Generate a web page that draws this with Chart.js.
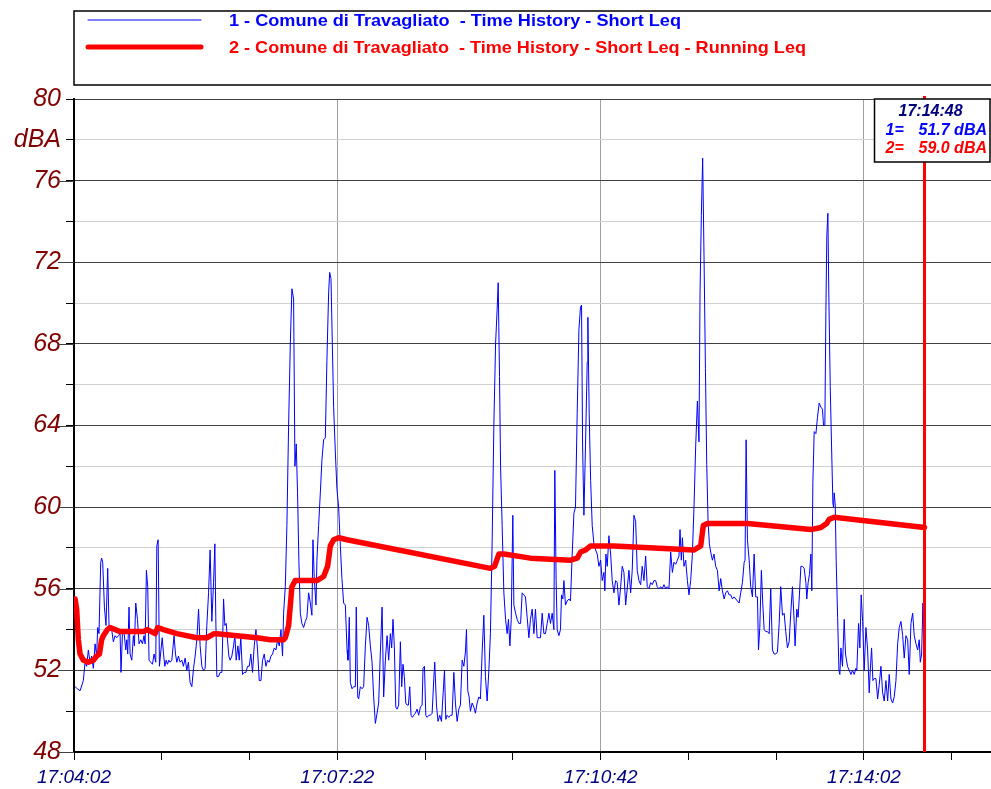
<!DOCTYPE html>
<html lang="it">
<head>
<meta charset="UTF-8">
<title>Comune di Travagliato - Time History</title>
<script src="https://cdn.jsdelivr.net/npm/chart.js"></script>
<style>
  body { margin: 0; background: #fff; }
  #wrap { width: 991px; height: 789px; position: relative; }
</style>
</head>
<body>
<div id="wrap"><canvas id="leqChart"></canvas></div>
<script>
// times are seconds after 17:04:02
const seriesNames = [
  '1 - Comune di Travagliato  - Time History - Short Leq',
  '2 - Comune di Travagliato  - Time History - Short Leq - Running Leq'
];

const shortLeqT = [
  0.8,2.5,4.6,7.1,8.4,9.6,10.9,12.2,13.4,14.7,
  16.0,17.2,18.0,19.0,20.3,21.0,21.8,23.1,24.3,25.6,
  26.6,28.6,29.9,31.2,32.4,33.7,35.0,35.7,36.8,38.0,
  39.3,40.1,40.8,41.8,42.6,43.9,45.1,45.9,46.9,48.2,
  49.4,50.7,52.0,53.2,54.0,55.0,56.0,57.0,58.3,59.6,
  60.8,62.1,62.9,63.9,64.9,65.9,67.0,68.0,69.0,70.0,
  71.0,72.0,73.0,74.3,76.0,77.1,78.1,79.3,80.6,81.9,
  83.1,84.4,85.7,86.9,88.2,89.5,90.8,92.0,93.3,94.6,
  95.8,97.1,98.4,99.6,100.9,102.2,103.4,104.7,106.0,107.0,
  107.7,108.5,109.8,111.0,112.3,113.6,114.6,115.6,116.6,117.6,
  118.6,119.9,121.2,122.2,123.2,124.5,125.5,126.7,128.0,129.3,
  130.6,131.8,133.1,134.3,135.6,136.9,138.2,139.4,140.7,142.0,
  143.2,144.5,145.8,147.0,148.3,149.6,150.8,152.1,153.4,154.6,
  155.9,157.2,158.4,
  159.2,160.5,161.7,163.0,164.3,165.5,166.8,167.8,168.8,169.8,
  170.8,171.9,173.1,174.4,175.7,176.9,178.2,179.5,180.7,181.5,
  182.5,183.8,184.5,185.8,187.1,188.3,189.6,190.9,192.1,193.4,
  194.2,195.2,196.2,197.2,198.5,199.7,201.0,202.3,203.5,204.8,
  206.1,207.4,208.1,209.1,209.9,211.2,212.4,213.7,214.4,215.5,
  216.2,217.5,218.8,220.0,221.3,222.6,223.8,225.1,226.4,227.6,
  228.9,230.2,231.4,232.7,234.0,235.2,236.5,237.8,239.0,240.3,
  241.3,242.3,243.3,244.4,245.4,246.6,247.9,248.9,249.9,250.9,
  252.0,253.0,254.0,255.0,256.0,257.0,258.0,259.3,260.6,261.8,
  263.1,264.4,265.1,266.2,267.2,268.2,269.5,270.7,272.0,273.3,
  274.0,275.3,276.5,277.8,279.1,280.4,281.4,282.4,283.4,284.7,
  285.9,287.2,288.5,289.7,291.0,292.3,293.5,294.8,296.1,297.3,
  298.1,299.1,300.1,301.1,302.4,303.7,304.9,306.2,307.5,308.7,
  310.0,311.3,312.5,313.8,315.1,316.3,317.6,318.9,320.2,321.4,
  322.2,323.2,324.0,325.2,326.5,327.8,329.0,330.0,331.1,332.1,
  333.3,334.1,335.4,336.6,337.9,339.2,
  340.4,341.7,342.9,344.2,345.5,346.7,348.0,349.3,350.5,351.8,
  353.1,354.3,355.6,356.9,358.1,359.4,360.7,361.9,363.2,364.5,
  365.2,366.2,367.0,368.3,369.5,370.3,371.3,372.1,373.3,374.6,
  375.9,377.1,378.4,379.7,380.9,382.2,383.5,384.7,385.5,386.3,
  387.3,388.5,389.8,390.3,391.3,392.4,393.6,394.9,396.2,397.4,
  398.7,400.0,401.2,402.5,403.2,404.0,405.0,406.3,407.6,408.8,
  410.1,411.4,412.6,413.9,415.2,416.4,417.7,419.0,420.2,421.5,
  422.8,424.0,425.3,426.6,427.8,429.1,430.4,431.6,432.9,434.2,
  435.4,436.7,438.0,439.2,440.5,441.8,443.0,444.3,445.6,446.8,
  448.1,449.4,450.6,451.9,453.2,454.5,455.7,457.0,458.3,459.5,
  460.3,461.3,462.1,463.3,464.6,465.9,467.1,468.4,469.7,
  471.0,472.2,473.5,474.7,475.5,476.5,477.5,478.5,479.6,480.6,
  481.6,482.6,483.6,484.9,486.1,487.4,488.7,490.0,491.2,492.5,
  493.8,495.0,496.3,497.6,498.8,500.1,501.4,502.6,503.9,505.2,
  506.4,507.7,509.0,509.7,510.5,511.5,512.8,514.0,515.3,516.6,
  517.8,519.1,519.9,520.9,522.1,523.2,524.2,525.4,526.7,528.0,
  529.2,530.5,531.8,533.0,534.3,535.6,536.8,538.1,539.4,540.6,
  541.9,543.2,544.5,545.7,547.0,547.7,549.0,550.0,551.0,552.1,
  553.3,554.6,555.9,556.6,557.6,558.6,559.7,560.4,561.2,562.2,
  563.5,564.7,566.0,567.3,568.5,569.3,570.3,571.1,571.8,572.6,
  573.3,574.4,575.4,576.4,576.9,577.4,578.2,578.9,580.0,581.0,
  581.7,582.5,583.7,585.0,586.0,587.5,588.8,590.1,591.3,592.6,
  593.9,594.6,595.9,596.9,597.9,599.0,600.2,601.5,602.8,604.0,
  604.8,605.8,606.8,607.8,609.1,610.4,611.6,612.9,614.2,615.4,
  616.7,618.0,619.2,620.5,621.8,623.0,624.3,625.6,626.8,628.1,
  629.4,630.6,631.9,633.2,634.4,635.7,637.0,638.2,639.5,640.8,
  642.0,642.8,643.8,644.8,645.8
];

const shortLeqV = [
  51.2,51.1,51.0,51.5,52.4,52.2,53.0,52.4,52.7,52.1,
  53.3,52.7,54.1,53.8,57.3,57.5,57.3,55.1,54.2,57.0,
  54.2,54.0,53.4,53.7,53.6,53.7,53.8,51.9,53.8,53.9,
  53.0,53.5,52.8,55.1,52.8,52.5,53.7,53.2,55.3,54.5,
  53.3,53.5,53.3,53.7,53.3,56.9,56.1,52.5,52.4,52.3,
  52.8,52.4,58.1,58.4,52.2,52.9,53.6,52.8,52.2,52.5,
  52.3,52.5,52.4,52.5,53.7,52.8,52.4,52.7,52.4,52.5,
  52.2,52.6,52.0,52.4,51.4,51.2,52.1,52.7,53.5,55.0,
  53.2,52.2,52.0,52.1,54.2,55.8,57.9,54.4,56.3,58.2,
  54.6,51.7,51.7,51.9,51.9,55.5,54.2,54.3,53.5,52.7,
  52.5,52.7,53.2,53.7,52.5,53.2,52.5,53.6,51.8,51.9,
  51.9,52.2,52.2,52.8,51.9,53.2,54.0,53.0,51.5,51.5,
  52.5,52.8,52.2,52.5,52.4,52.7,52.8,53.1,53.0,53.5,
  53.2,54.0,52.7,
  54.8,56.1,59.1,64.0,68.0,70.7,70.2,62.0,63.1,60.7,
  57.4,54.8,54.3,54.1,54.4,54.6,55.8,55.3,54.7,58.4,
  56.5,55.2,57.4,59.1,60.7,62.3,63.3,63.4,67.2,70.5,
  71.5,71.2,68.0,64.9,62.7,60.9,60.0,58.1,56.5,55.3,
  55.2,53.0,52.5,54.6,51.4,51.1,51.2,51.2,55.1,50.7,
  50.6,51.2,51.1,51.2,53.2,54.6,54.2,53.2,52.4,50.7,
  49.4,49.9,50.4,52.9,55.1,50.7,52.5,53.7,52.5,53.8,
  53.1,54.5,53.2,50.2,50.1,50.3,53.4,51.2,52.3,51.7,
  50.4,50.3,50.3,51.2,49.8,49.7,49.8,49.9,50.1,49.8,
  50.2,50.3,52.1,52.2,49.8,49.7,49.8,49.8,49.9,51.6,
  52.4,50.3,49.5,49.8,49.5,50.9,52.0,49.6,49.8,49.7,
  49.8,49.8,51.9,50.4,49.5,50.1,50.3,52.5,52.2,52.9,
  54.0,51.0,50.7,50.0,50.4,50.2,49.9,50.4,50.7,50.6,
  52.9,54.7,51.7,50.5,52.0,53.8,58.3,64.0,68.0,69.7,
  71.0,66.4,62.0,59.1,55.8,54.5,53.8,54.5,53.2,54.5,
  59.6,55.2,54.8,54.5,54.3,54.3,
  55.8,55.7,55.6,54.6,53.6,54.5,55.0,53.8,55.0,53.6,
  53.6,53.6,54.8,53.8,53.8,54.3,54.8,54.3,54.8,54.0,
  61.8,56.4,54.0,53.7,54.0,55.7,55.5,56.4,55.2,55.4,
  55.5,55.4,57.7,59.7,60.0,64.6,68.7,69.8,69.9,63.0,
  59.6,63.0,67.1,69.3,64.6,61.3,59.1,58.2,57.9,57.7,
  57.1,57.4,56.4,56.8,55.9,57.7,57.1,58.6,57.7,56.4,
  55.8,56.4,56.3,55.2,56.1,57.1,56.8,55.2,56.0,56.9,
  55.8,56.9,59.6,59.3,56.9,56.4,56.2,57.1,56.4,57.6,
  56.1,56.0,56.3,56.2,56.4,56.4,56.1,56.0,56.1,56.0,
  56.2,56.0,56.1,56.0,57.8,56.8,57.3,57.2,57.4,57.6,
  58.9,57.4,58.5,57.1,57.4,56.4,55.7,56.4,57.7,
  60.2,63.0,65.2,63.2,70.5,74.3,77.1,72.4,66.8,62.1,
  59.3,58.2,57.8,57.4,57.7,57.1,56.9,55.9,56.5,55.9,
  55.5,55.8,55.9,55.7,55.7,55.5,55.6,55.5,55.4,55.3,
  55.8,56.3,57.3,57.4,63.3,58.4,57.4,56.1,55.6,57.7,
  55.6,55.6,53.0,54.1,56.9,55.2,54.0,53.9,53.9,53.8,
  56.0,53.0,52.8,52.8,52.9,54.3,56.1,54.7,54.8,53.9,
  53.1,53.4,54.9,56.1,54.4,53.2,55.0,54.6,55.7,57.1,
  57.1,57.0,56.3,55.5,56.3,56.7,57.7,55.9,61.2,63.7,
  63.6,64.4,65.1,64.9,64.8,64.0,64.0,69.6,73.3,74.4,
  70.5,65.9,63.0,60.2,60.0,60.7,60.1,57.4,54.6,52.0,
  51.8,53.1,52.2,54.5,52.8,52.2,52.0,51.8,52.0,51.8,
  52.1,52.0,54.3,53.1,55.7,54.4,52.0,54.1,53.0,50.9,
  52.0,53.1,51.5,51.6,51.6,50.6,51.3,52.2,50.9,50.5,
  51.5,50.5,51.8,50.6,50.4,50.7,51.5,53.3,54.1,54.4,
  53.7,52.6,53.7,53.5,51.8,54.3,54.8,53.7,53.3,53.0,
  53.5,52.4,52.8,55.3,51.7
];

const runningLeqT = [
  0.8,2.0,3.3,4.6,7.1,10.9,14.7,17.2,19.3,21.0,
  22.3,25.4,27.4,35.0,45.1,52.7,55.8,61.6,63.6,68.0,
  78.1,93.3,100.9,106.5,108.5,123.7,138.9,149.1,159.2,160.5,
  163.0,165.5,168.0,174.4,184.5,189.6,192.6,194.7,197.2,201.0,
  207.4,316.3,319.4,322.7,326.5,346.7,377.1,382.2,384.8,388.5,
  392.4,410.1,471.0,476.0,478.0,481.1,511.5,559.7,567.3,571.6,
  573.6,577.4,646.0
];
const runningLeqV = [
  55.5,55.0,53.5,52.8,52.5,52.4,52.5,52.7,52.8,53.5,
  53.7,54.0,54.1,53.9,53.9,53.9,54.0,53.8,54.1,54.0,
  53.8,53.6,53.6,53.8,53.8,53.7,53.6,53.5,53.5,53.6,
  54.2,56.1,56.4,56.4,56.4,56.6,57.1,58.1,58.4,58.5,
  58.4,57.0,57.1,57.7,57.7,57.5,57.4,57.5,57.8,57.9,
  58.1,58.1,57.9,58.1,59.1,59.2,59.2,58.9,59.0,59.2,
  59.4,59.5,59.0
];

const xMax = 696.5;
const xTickSeconds = [0, 200, 400, 600];
const xTickLabels = ['17:04:02', '17:07:22', '17:10:42', '17:14:02'];
const yTickValues = [48, 52, 56, 60, 64, 68, 72, 76, 78, 80];
const yTickLabels = ['48', '52', '56', '60', '64', '68', '72', '76', 'dBA', '80'];

const cursorTime = 646;
const cursorLabel = '17:14:48';
const cursorValues = [51.7, 59.0];

const FONT = '"Liberation Sans", Arial, sans-serif';
const BLUE = '#0000ff';
const RED = '#ff0000';

function pairs(ts, vs) {
  return ts.map((t, i) => ({ x: t, y: vs[i] }));
}

const overlay = {
  id: 'overlay',
  beforeDraw(chart) {
    const c = chart.ctx;
    c.save();
    c.fillStyle = '#fff';
    c.fillRect(0, 0, chart.width, chart.height);
    c.restore();
  },
  afterDraw(chart) {
    const c = chart.ctx;
    const area = chart.chartArea;
    const xs = chart.scales.x;
    const ys = chart.scales.y;

    c.save();
    // longer tick marks at the numbered levels
    c.strokeStyle = '#404040';
    c.lineWidth = 1;
    yTickValues.forEach((v) => {
      if (v % 4 !== 0 || v === 80) return;
      const y = Math.round(ys.getPixelForValue(v)) + 0.5;
      c.beginPath();
      c.moveTo(area.left - 16, y);
      c.lineTo(area.left, y);
      c.stroke();
    });

    // legend box
    c.strokeStyle = '#000';
    c.lineWidth = 1.5;
    c.strokeRect(area.left, 11, chart.width, 74);

    const rows = [
      { y: 20, color: BLUE, width: 1, target: 452 },
      { y: 47, color: RED, width: 5, target: 577 }
    ];
    rows.forEach((r, i) => {
      c.strokeStyle = r.color;
      c.lineWidth = r.width;
      c.lineCap = 'round';
      c.beginPath();
      c.moveTo(area.left + 14, r.y);
      c.lineTo(area.left + 127, r.y);
      c.stroke();

      c.font = 'bold 17px ' + FONT;
      c.fillStyle = r.color;
      c.textBaseline = 'middle';
      c.textAlign = 'left';
      const w = c.measureText(seriesNames[i]).width;
      c.save();
      c.translate(area.left + 155, r.y + 1);
      c.scale(r.target / w, 1);
      c.fillText(seriesNames[i], 0, 0);
      c.restore();
    });

    // cursor
    const cx = xs.getPixelForValue(cursorTime);
    c.strokeStyle = RED;
    c.lineWidth = 3;
    c.lineCap = 'butt';
    c.beginPath();
    c.moveTo(cx, area.top - 3);
    c.lineTo(cx, area.bottom);
    c.stroke();

    // readout box
    const bl = cx - 50, bt = area.top, br = area.right - 1, bb = area.top + 63;
    c.fillStyle = '#fff';
    c.fillRect(bl, bt, br - bl, bb - bt);
    c.strokeStyle = '#000';
    c.lineWidth = 1.5;
    c.strokeRect(bl, bt, br - bl, bb - bt);

    c.font = 'italic bold 16px ' + FONT;
    c.textBaseline = 'middle';
    c.textAlign = 'left';
    c.fillStyle = '#00007f';
    c.fillText(cursorLabel, bl + 24, bt + 13);
    const cols = [BLUE, RED];
    cursorValues.forEach((v, i) => {
      const y = bt + 32 + i * 18;
      c.fillStyle = cols[i];
      c.textAlign = 'left';
      c.fillText((i + 1) + '=', bl + 11, y);
      c.textAlign = 'right';
      c.fillText(v.toFixed(1) + ' dBA', br - 3, y);
    });
    c.restore();
  }
};

new Chart(document.getElementById('leqChart'), {
  type: 'line',
  data: {
    datasets: [
      {
        label: seriesNames[0],
        data: pairs(shortLeqT, shortLeqV),
        borderColor: BLUE,
        borderWidth: 1,
        pointRadius: 0,
        tension: 0,
        order: 2
      },
      {
        label: seriesNames[1],
        data: pairs(runningLeqT, runningLeqV),
        borderColor: RED,
        borderWidth: 5.5,
        borderCapStyle: 'round',
        borderJoinStyle: 'round',
        pointRadius: 0,
        tension: 0,
        order: 1
      }
    ]
  },
  options: {
    responsive: true,
    maintainAspectRatio: false,
    animation: false,
    layout: { padding: { top: 99, left: 0, right: 0, bottom: 0 } },
    plugins: {
      legend: { display: false },
      tooltip: { enabled: false }
    },
    scales: {
      x: {
        type: 'linear',
        min: 0,
        max: xMax,
        afterBuildTicks(scale) {
          const ticks = [];
          for (let i = 0; (i * 200) / 3 <= xMax; i++) ticks.push({ value: (i * 200) / 3 });
          scale.ticks = ticks;
        },
        afterFit(scale) { scale.height = 37; },
        border: { color: '#000', width: 2 },
        grid: {
          color: (ctx) => (ctx.tick && ctx.tick.value > 0 && xTickSeconds.includes(ctx.tick.value)) ? '#a0a0a0' : 'rgba(0,0,0,0)',
          tickColor: '#000',
          tickLength: 8,
          lineWidth: 1
        },
        ticks: {
          autoSkip: false,
          maxRotation: 0,
          padding: 6,
          color: '#00007f',
          font: { family: FONT, size: 19, style: 'italic' },
          callback: (v) => {
            const i = xTickSeconds.indexOf(v);
            return i >= 0 ? xTickLabels[i] : '';
          }
        }
      },
      y: {
        min: 48,
        max: 80,
        afterFit(scale) { scale.width = 74; },
        border: { color: '#000', width: 2 },
        grid: {
          color: (ctx) => ctx.tick && ctx.tick.value % 4 === 0 ? '#404040' : '#d0d0d0',
          tickColor: '#000',
          tickLength: 8,
          lineWidth: 1
        },
        ticks: {
          stepSize: 2,
          autoSkip: false,
          padding: 5,
          color: '#800000',
          font: { family: FONT, size: 25, style: 'italic' },
          callback: (v) => {
            const i = yTickValues.indexOf(v);
            return i >= 0 ? yTickLabels[i] : '';
          }
        }
      }
    }
  },
  plugins: [overlay]
});
</script>
</body>
</html>
